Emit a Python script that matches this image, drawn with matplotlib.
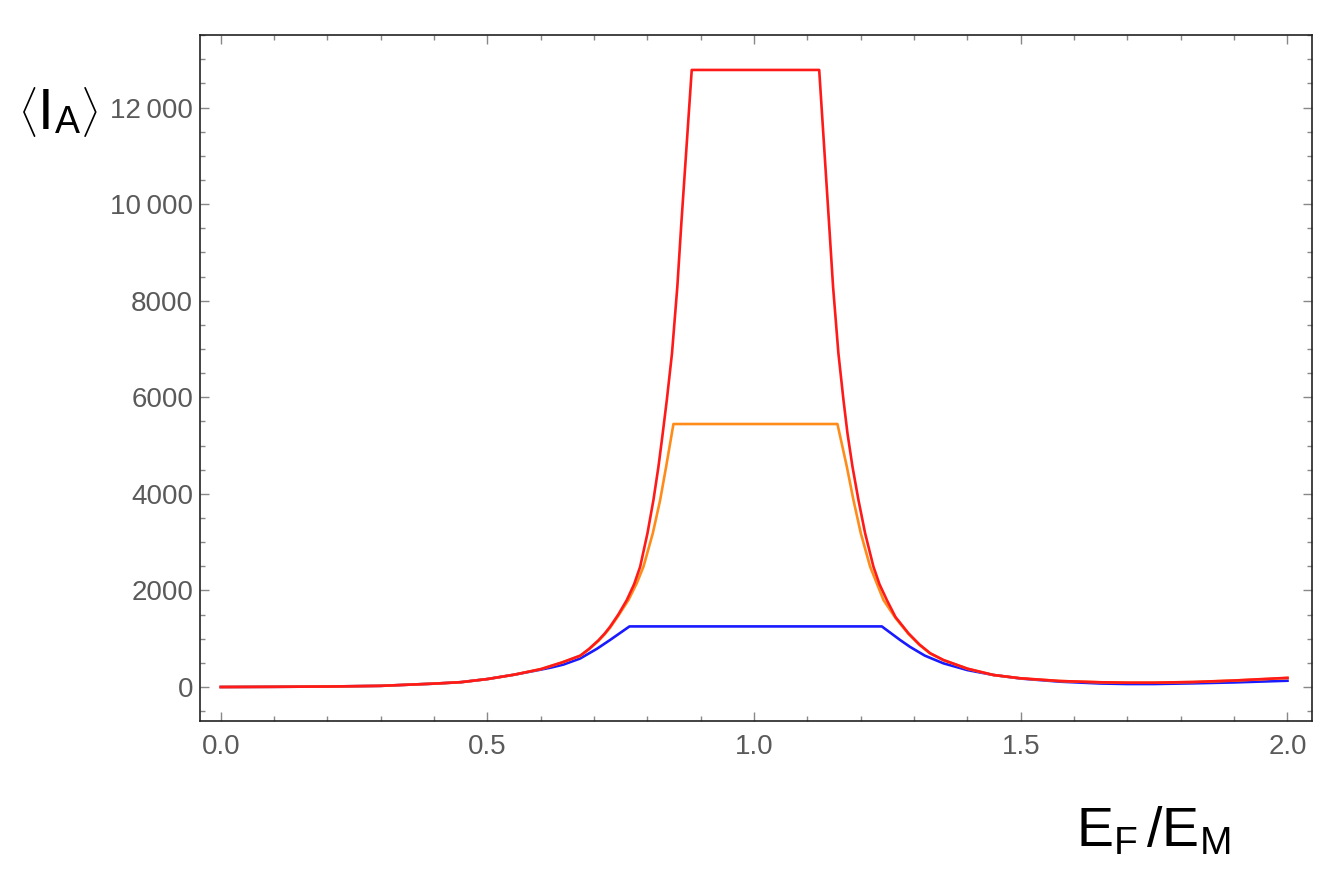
import matplotlib
matplotlib.use("Agg")
import matplotlib.pyplot as plt
from matplotlib.ticker import FixedLocator, MultipleLocator

plt.rcParams['font.family'] = ['Liberation Sans', 'DejaVu Sans']
plt.rcParams['mathtext.fontset'] = 'custom'
plt.rcParams['mathtext.rm'] = 'Liberation Sans'
plt.rcParams['mathtext.it'] = 'Liberation Sans'

# ---- data ----
red_x = [0.00, 0.10, 0.20, 0.30, 0.40, 0.45, 0.50, 0.55, 0.60, 0.64, 0.674, 0.69,
         0.708, 0.72, 0.730, 0.745, 0.7613, 0.775, 0.7863, 0.800, 0.8112, 0.8206,
         0.828, 0.8363, 0.846, 0.856, 0.8635, 0.883, 1.122, 1.1405, 1.148, 1.158,
         1.1675, 1.175, 1.1844, 1.1956, 1.2081, 1.2237, 1.235, 1.2488, 1.265,
         1.2894, 1.31, 1.33, 1.355, 1.40, 1.4487, 1.50, 1.5738, 1.65, 1.70, 1.75,
         1.8237, 1.90, 2.00]
red_y = [0, 4, 10, 24, 70, 100, 165, 255, 370, 510, 650, 785,
         966, 1110, 1250, 1495, 1802, 2130, 2492, 3184, 3873, 4563,
         5200, 5945, 6912, 8291, 9600, 12780, 12780, 9600, 8291, 6912,
         5945, 5255, 4563, 3873, 3184, 2492, 2130, 1802, 1450,
         1112, 880, 700, 559, 380, 249, 180, 124, 98, 90, 90,
         104, 135, 190]

orange_x = [0.00, 0.10, 0.20, 0.30, 0.40, 0.45, 0.50, 0.55, 0.60, 0.64, 0.674, 0.69,
            0.708, 0.72, 0.730, 0.745, 0.7644, 0.78, 0.7925, 0.810, 0.8238, 0.835,
            0.8487, 1.1562, 1.1738, 1.1862, 1.200, 1.2175, 1.2425, 1.265, 1.2894,
            1.31, 1.33, 1.355, 1.40, 1.4487, 1.50, 1.5738, 1.65, 1.70, 1.75,
            1.8237, 1.90, 2.00]
orange_y = [0, 4, 10, 24, 70, 100, 165, 255, 370, 508, 645, 778,
            955, 1095, 1230, 1470, 1802, 2150, 2492, 3184, 3873, 4563,
            5447, 5447, 4563, 3873, 3184, 2492, 1802, 1430, 1100,
            872, 695, 556, 378, 248, 179, 123, 97, 89, 89,
            103, 133, 186]

blue_x = [0.00, 0.10, 0.20, 0.30, 0.40, 0.45, 0.50, 0.55, 0.60, 0.62, 0.6425,
          0.6737, 0.705, 0.730, 0.7663, 1.2394, 1.2738, 1.2925, 1.32, 1.355,
          1.40, 1.4487, 1.50, 1.5738, 1.65, 1.70, 1.75, 1.8237, 1.90, 2.00]
blue_y = [0, 4, 10, 24, 70, 100, 165, 255, 360, 405, 465,
          590, 790, 975, 1255, 1255, 973, 830, 650, 490,
          350, 249, 175, 110, 72, 62, 62, 76, 95, 130]

x_ticks = [0.0, 0.5, 1.0, 1.5, 2.0]
x_tick_labels = ['0.0', '0.5', '1.0', '1.5', '2.0']
y_ticks = [0, 2000, 4000, 6000, 8000, 10000, 12000]
y_tick_labels = ['0', '2000', '4000', '6000', '8000', '10\u2009000', '12\u2009000']

# ---- figure ----
W, H = 1344, 894
fig = plt.figure(figsize=(W / 100, H / 100), dpi=100)
ax = fig.add_axes([200 / W, 1 - 721 / H, (1312 - 200) / W, (721 - 34.7) / H])

ax.plot(blue_x, blue_y, color='#1a1aff', lw=1.9, solid_joinstyle='round')
ax.plot(orange_x, orange_y, color='#ff8c1a', lw=1.9, solid_joinstyle='round')
ax.plot(red_x, red_y, color='#ff1a1a', lw=1.9, solid_joinstyle='round')

ax.set_xlim(-0.039, 2.046)
ax.set_ylim(-704, 13510)

ax.xaxis.set_major_locator(FixedLocator(x_ticks))
ax.set_xticklabels(x_tick_labels)
ax.yaxis.set_major_locator(FixedLocator(y_ticks))
ax.set_yticklabels(y_tick_labels)
ax.xaxis.set_minor_locator(MultipleLocator(0.1))
ax.yaxis.set_minor_locator(MultipleLocator(500))

ax.tick_params(which='both', direction='in', top=True, right=True,
               color='#888888', width=1.0)
ax.tick_params(which='major', length=6.5)
ax.tick_params(which='minor', length=3.5)
ax.tick_params(axis='x', which='major', labelsize=20, labelcolor='#5a5a5a', pad=9)
ax.tick_params(axis='y', which='major', labelsize=20, labelcolor='#5a5a5a', pad=5)

for s in ax.spines.values():
    s.set_color('#222222')
    s.set_linewidth(1.2)


def px(x, y):
    return x / W, 1 - y / H


# y-axis label  <I_A>
fig.text(*px(27, 112), r'$\langle$', fontsize=30, color='black', ha='center', va='center')
fig.text(*px(38, 129), 'I', fontsize=41, color='black', ha='left', va='baseline')
fig.text(*px(55, 133), 'A', fontsize=27, color='black', ha='left', va='baseline')
fig.text(*px(89, 112), r'$\rangle$', fontsize=30, color='black', ha='center', va='center')

# x-axis label  E_F / E_M
fig.text(*px(1076, 846), r'$\mathrm{E}_{\mathrm{F}}\,/\mathrm{E}_{\mathrm{M}}$',
         fontsize=40, color='black', ha='left', va='baseline')

fig.savefig('out.png', dpi=100)
